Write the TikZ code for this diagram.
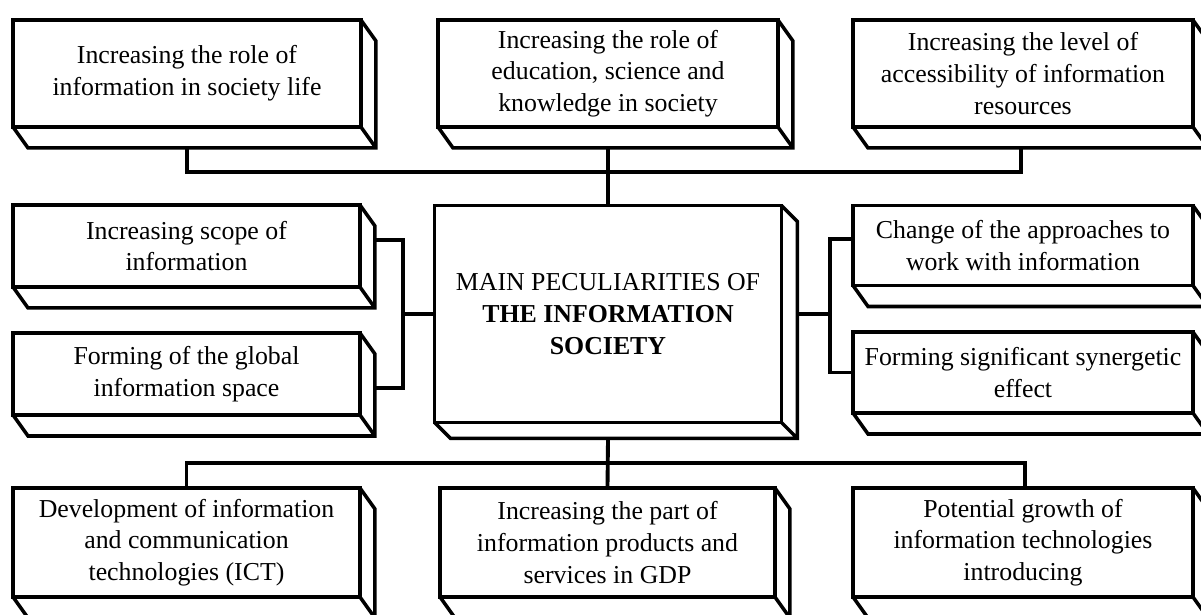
\documentclass[tikz,border=0pt]{standalone}
\usepackage{fontspec}
\setmainfont{Liberation Serif}
\usetikzlibrary{positioning}

\begin{document}
\begin{tikzpicture}[x=0.02cm, y=-0.02cm]
% Node styles
\tikzstyle{block} = [rectangle, draw=black, line width=2.2pt, fill=white, align=center, inner sep=2pt, outer sep=0pt, font=\fontsize{14.7}{18.1}\selectfont]
\tikzstyle{depth} = [line width=2pt, line join=miter]
\tikzstyle{link} = [line width=2.2pt]

\clip (0,0) rectangle (1201,615);

% Nodes
\node [block, minimum width=6.96cm, minimum height=2.14cm] (t1) at (187,73.5) {Increasing the role of\\ information in society life};
\node [block, minimum width=6.8cm, minimum height=2.14cm] (t2) at (608,73.5) {Increasing the role of\\ education, science and\\ knowledge in society};
\node [block, minimum width=6.8cm, minimum height=2.14cm] (t3) at (1023,73.5) {Increasing the level of\\ accessibility of information\\ resources};

\node [block, minimum width=6.94cm, minimum height=1.64cm] (mA) at (186.5,246) {Increasing scope of\\ information};
\node [block, minimum width=6.94cm, minimum height=1.64cm] (mB) at (186.5,374) {Forming of the global\\ information space};
\node [block, minimum width=6.94cm, minimum height=4.34cm] (core) at (608,314) {MAIN PECULIARITIES OF\\ \textbf{THE INFORMATION}\\ \textbf{SOCIETY}};
\node [block, minimum width=6.8cm, minimum height=1.6cm] (mC) at (1023,245.5) {Change of the approaches to\\ work with information};
\node [block, minimum width=6.8cm, minimum height=1.62cm] (mD) at (1023,372.5) {Forming significant synergetic\\ effect};

\node [block, minimum width=6.94cm, minimum height=2.18cm] (b1) at (186.5,542.5) {Development of information\\ and communication\\ technologies (ICT)};
\node [block, minimum width=6.7cm, minimum height=2.18cm] (b2) at (607.5,542.5) {Increasing the part of\\ information products and\\ services in GDP};
\node [block, minimum width=6.8cm, minimum height=2.18cm] (b3) at (1023,542.5) {Potential growth of\\ information technologies\\ introducing};

% Box depth
\foreach \n in {t1,t2,t3,mA,mB,mC,mD,b1,b2,b3}
  \draw [depth] (\n.south west) -- ++(15,21) -| ([shift={(15,21)}]\n.north east) -- (\n.north east) (\n.south east) -- ++(15,21);
\draw [depth] (core.south west) -- ++(16,16) -| ([shift={(16,16)}]core.north east) -- (core.north east) (core.south east) -- ++(16,16);

% Buses
\coordinate (topbus) at (608,172);
\coordinate (lbus) at (403,314);
\coordinate (rbus) at (830,314);
\coordinate (botbus) at (608,463);

% Connectors
\draw [link] ([shift={(0,21)}]t1.south) |- (topbus) -| ([shift={(-2,21)}]t3.south);
\draw [link] ([shift={(0,21)}]t2.south) -- (core.north);
\draw [link] ([shift={(15,-6)}]mA.east) -| (lbus) |- ([shift={(15,14)}]mB.east);
\draw [link] (lbus) -- (core.west);
\draw [link] ([shift={(16,0)}]core.east) -- (rbus);
\draw [link] ([shift={(0,-6.5)}]mC.west) -| (rbus) |- (mD.west);
\draw [link] (b1.north) |- (botbus) -| ([xshift=0.04cm]b3.north);
\draw [link] ([shift={(0,16)}]core.south) -- (b2.north);
\end{tikzpicture}
\end{document}
